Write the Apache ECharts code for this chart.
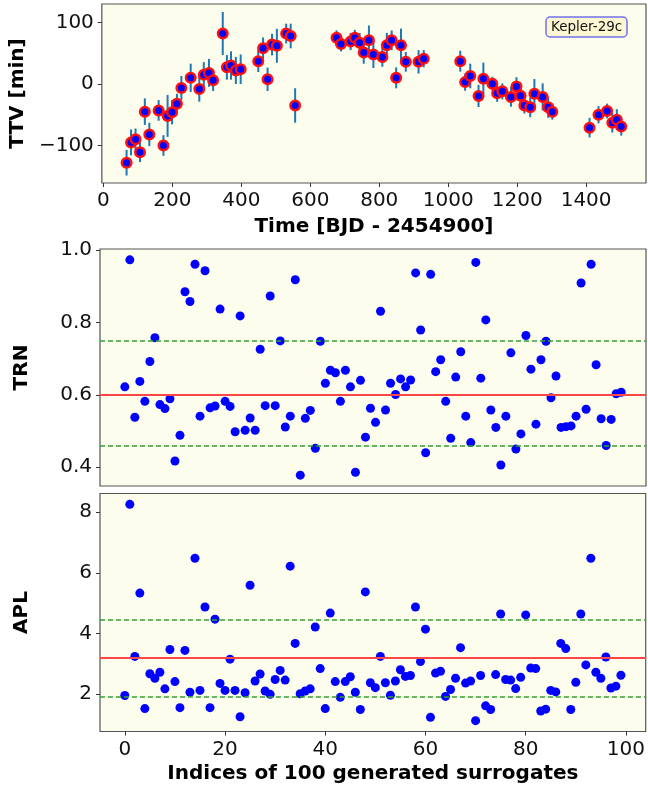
<!DOCTYPE html>
<html>
<head>
<meta charset="utf-8">
<script src="https://cdn.jsdelivr.net/npm/echarts@6/dist/echarts.min.js"></script>
<style>
  html, body { margin: 0; padding: 0; background: #ffffff; }
  #chart { width: 648px; height: 785px; }
</style>
</head>
<body>
<div id="chart"></div>
<script>
// Transit timing variations of Kepler-29c
const timeBJD = [67, 80, 93, 106, 120, 133, 160, 174, 186, 199, 213, 226, 253, 278, 291, 306, 318, 346, 358, 370,
  384, 398, 449, 463, 476, 489, 503, 530, 543, 556,
  676, 689, 717, 729, 743, 755, 770, 783, 809, 822, 836, 849, 863, 877, 914, 929,
  1035, 1049, 1064, 1088, 1102, 1128, 1142, 1157, 1182, 1198, 1210, 1221, 1238, 1250, 1274, 1290, 1302,
  1410, 1436, 1461, 1476, 1489, 1502];
const ttvMin = [-128, -95, -90, -111, -45, -82, -43, -100, -52, -46, -32, -6.5, 10, -8, 15, 18, 6, 82, 27, 30,
  22, 24, 37, 58, 7.6, 64, 62, 82, 78, -35,
  75, 65, 69, 75, 67, 51, 71, 48, 44, 63, 71, 10, 63, 36, 36, 41,
  37, 3, 13, -19.5, 8.6, 0.5, -15, -12, -21, -4, -19, -35, -38, -16, -21, -38, -45,
  -71, -50, -44, -63, -58, -69];
const ttvErr = [20.8, 21, 17.6, 16, 21.6, 19, 16.8, 16.8, 34, 19.7, 16, 19.5, 23, 20.8, 20.5, 22.7, 17.3, 35, 20, 23,
  22, 24, 17.6, 17.6, 19, 17.6, 27.6, 16, 20, 28,
  12, 12, 14, 13, 16, 18, 24, 22, 16, 20, 16, 17, 27, 16, 19, 14,
  17, 14, 20, 18, 26, 11, 14, 13, 16, 15, 12, 13, 16, 24, 22, 17, 13,
  16, 14, 12, 16, 17, 15];

// Statistics of the 100 generated surrogates
const trnValues = [0.622, 0.973, 0.538, 0.637, 0.582, 0.692, 0.758, 0.573, 0.562, 0.589,
  0.417, 0.488, 0.885, 0.858, 0.961, 0.541, 0.943, 0.564, 0.569, 0.837,
  0.582, 0.568, 0.498, 0.818, 0.502, 0.536, 0.502, 0.726, 0.570, 0.873,
  0.570, 0.749, 0.511, 0.541, 0.918, 0.378, 0.535, 0.557, 0.452, 0.748,
  0.632, 0.668, 0.661, 0.582, 0.668, 0.622, 0.386, 0.640, 0.483, 0.563,
  0.524, 0.831, 0.558, 0.632, 0.601, 0.644, 0.622, 0.641, 0.937, 0.779,
  0.440, 0.933, 0.664, 0.697, 0.582, 0.480, 0.649, 0.719, 0.541, 0.468,
  0.966, 0.646, 0.807, 0.558, 0.510, 0.406, 0.541, 0.716, 0.450, 0.492,
  0.764, 0.671, 0.519, 0.697, 0.748, 0.592, 0.652, 0.510, 0.512, 0.514,
  0.541, 0.909, 0.560, 0.961, 0.683, 0.534, 0.460, 0.532, 0.603, 0.607];
const aplValues = [1.95, 8.26, 3.24, 5.33, 1.52, 2.67, 2.52, 2.72, 2.17, 3.47,
  2.41, 1.55, 3.44, 2.06, 6.48, 2.12, 4.87, 1.55, 4.47, 2.35,
  2.12, 3.15, 2.12, 1.25, 2.04, 5.59, 2.43, 2.66, 2.10, 1.99,
  2.48, 2.78, 2.46, 6.22, 3.67, 2.01, 2.10, 2.17, 4.21, 2.84,
  1.52, 4.67, 2.41, 1.89, 2.41, 2.57, 2.06, 1.49, 5.37, 2.37,
  2.21, 3.24, 2.37, 1.96, 2.43, 2.80, 2.58, 2.61, 4.87, 3.07,
  4.14, 1.23, 2.69, 2.75, 1.92, 2.15, 2.52, 3.53, 2.36, 2.43,
  1.12, 2.61, 1.61, 1.49, 2.64, 4.64, 2.48, 2.46, 2.18, 2.55,
  4.61, 2.86, 2.84, 1.44, 1.50, 2.12, 2.07, 3.67, 3.50, 1.49,
  2.39, 4.64, 2.96, 6.48, 2.72, 2.52, 3.22, 2.20, 2.26, 2.62];
// Original-series value (red) and surrogate confidence band (green)
const trnOriginal = 0.600, trnBand = [0.456, 0.746];
const aplOriginal = 3.19, aplBand = [1.90, 4.455];

const timeTicks = [0, 200, 400, 600, 800, 1000, 1200, 1400];
const ttvTicks = [-100, 0, 100];
const trnTicks = [0.4, 0.6, 0.8, 1.0];
const aplTicks = [2, 4, 6, 8];
const indexTicks = [0, 20, 40, 60, 80, 100];

const FONT = 'DejaVu Sans';
const minus = v => String(v).replace('-', '\u2212');

function valueAxis(gridIndex, min, max, ticks, fmt, extra) {
  return Object.assign({
    type: 'value', gridIndex, min, max,
    axisLine: { show: false, onZero: false },
    splitLine: { show: false },
    axisTick: { show: true, length: 4, customValues: ticks, lineStyle: { color: '#333', width: 1 } },
    axisLabel: { customValues: ticks, formatter: fmt, color: '#111', fontSize: 20, fontFamily: FONT, margin: 8 },
    nameTextStyle: { fontFamily: FONT, fontSize: 20, fontWeight: 'bold', color: '#000' },
    nameLocation: 'middle'
  }, extra || {});
}

const idx = trnValues.map((_, i) => i);

const refLines = (center, band) => ({
  silent: true, symbol: 'none', label: { show: false },
  data: [
    { yAxis: center, lineStyle: { color: '#ff4646', width: 1.8, type: 'solid' } },
    { yAxis: band[0], lineStyle: { color: '#34a034', width: 1.5, type: [5, 3] } },
    { yAxis: band[1], lineStyle: { color: '#34a034', width: 1.5, type: [5, 3] } }
  ]
});

const gridStyle = { show: true, backgroundColor: '#fdfdee', borderColor: '#555', borderWidth: 1.2, containLabel: false };

const option = {
  animation: false,
  title: {
    text: 'Kepler-29c', left: 546, top: 17,
    padding: [3, 5, 3, 5],
    backgroundColor: '#fdf6d2', borderColor: '#7272ec', borderWidth: 1.5, borderRadius: 4,
    textStyle: { fontFamily: FONT, fontSize: 13.5, fontWeight: 'normal', color: '#111' }
  },
  grid: [
    Object.assign({ left: 100, top: 4, width: 546, height: 179 }, gridStyle),
    Object.assign({ left: 100, top: 249, width: 546, height: 237 }, gridStyle),
    Object.assign({ left: 100, top: 493.5, width: 546, height: 238 }, gridStyle)
  ],
  xAxis: [
    valueAxis(0, -4.75, 1573.75, timeTicks, v => minus(v), { name: 'Time [BJD - 2454900]', nameGap: 34 }),
    valueAxis(1, -4.95, 103.95, indexTicks, () => '', { axisTick: { show: false } }),
    valueAxis(2, -4.95, 103.95, indexTicks, v => minus(v), { name: 'Indices of 100 generated surrogates', nameGap: 32 })
  ],
  yAxis: [
    valueAxis(0, -161, 130, ttvTicks, v => minus(v), { name: 'TTV [min]', nameGap: 72 }),
    valueAxis(1, 0.348, 1.003, trnTicks, v => v.toFixed(1), { name: 'TRN', nameGap: 68 }),
    valueAxis(2, 0.763, 8.617, aplTicks, v => String(v), { name: 'APL', nameGap: 68 })
  ],
  series: [
    {
      type: 'custom', xAxisIndex: 0, yAxisIndex: 0, silent: true,
      data: timeBJD.map((t, i) => [t, ttvMin[i], ttvErr[i]]),
      encode: { x: 0, y: 1 },
      renderItem: (params, api) => {
        const x = api.value(0), y = api.value(1), e = api.value(2);
        const lo = api.coord([x, y - e]), hi = api.coord([x, y + e]);
        return {
          type: 'line',
          shape: { x1: lo[0], y1: lo[1], x2: hi[0], y2: hi[1] },
          style: { stroke: '#1f77b4', lineWidth: 2 }
        };
      }
    },
    {
      type: 'scatter', xAxisIndex: 0, yAxisIndex: 0, symbolSize: 9.5,
      data: timeBJD.map((t, i) => [t, ttvMin[i]]),
      itemStyle: { color: '#0000ff', borderColor: '#ff1010', borderWidth: 2.5, opacity: 1 }
    },
    {
      type: 'scatter', xAxisIndex: 1, yAxisIndex: 1, symbolSize: 9,
      data: idx.map(i => [i, trnValues[i]]),
      itemStyle: { color: '#0000ff', opacity: 1 },
      markLine: refLines(trnOriginal, trnBand),
      z: 3
    },
    {
      type: 'scatter', xAxisIndex: 2, yAxisIndex: 2, symbolSize: 9,
      data: idx.map(i => [i, aplValues[i]]),
      itemStyle: { color: '#0000ff', opacity: 1 },
      markLine: refLines(aplOriginal, aplBand),
      z: 3
    }
  ]
};

const chart = echarts.init(document.getElementById('chart'), null, { renderer: 'canvas' });
chart.setOption(option);
</script>
</body>
</html>
